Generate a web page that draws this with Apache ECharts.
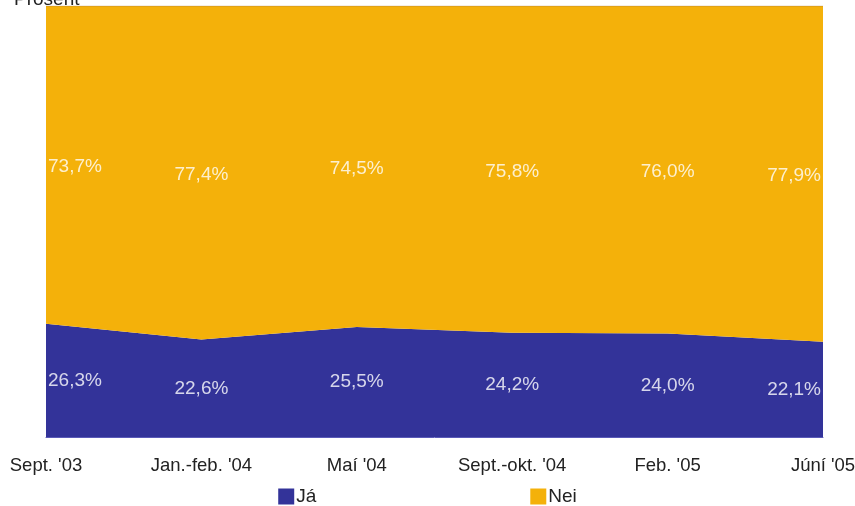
<!DOCTYPE html>
<html>
<head>
<meta charset="utf-8">
<script src="https://cdn.jsdelivr.net/npm/echarts@6/dist/echarts.min.js"></script>
<style>
  html, body { margin: 0; padding: 0; background: #fff; }
  #chart { width: 855px; height: 506px; }
</style>
</head>
<body>
<div id="chart"></div>
<script>
// tímabil
const categories = ["Sept. '03", "Jan.-feb. '04", "Maí '04", "Sept.-okt. '04", "Feb. '05", "Júní '05"];
const ja = [26.3, 22.6, 25.5, 24.2, 24.0, 22.1];
const nei = [73.7, 77.4, 74.5, 75.8, 76.0, 77.9];

const FONT = '"Liberation Sans Narrow", "Arial Narrow", "Liberation Sans", Arial, sans-serif';
const BLUE = '#333399';
const ORANGE = '#F4B10A';

const fmt = (v) => v.toFixed(1).replace('.', ',') + '%';

// label á miðju hvers svæðis
const last = categories.length - 1;
const alignFor = (i) => i === 0 ? 'left' : (i === last ? 'right' : 'center');
const shiftFor = (i) => i === 0 ? 2 : (i === last ? -2 : 0);
const midJa = ja.map((v, i) => ({
  value: [i, v / 2],
  label: { formatter: fmt(v), align: alignFor(i), offset: [shiftFor(i), 0] }
}));
const midNei = nei.map((v, i) => ({
  value: [i, ja[i] + v / 2],
  label: { formatter: fmt(v), align: alignFor(i), offset: [shiftFor(i), 2] }
}));

const chart = echarts.init(document.getElementById('chart'));
chart.setOption({
  animation: false,
  backgroundColor: '#fff',
  textStyle: { fontFamily: FONT },
  title: {
    text: 'Prósent',
    left: 9,
    top: -15,
    textStyle: { fontFamily: FONT, fontSize: 19, fontWeight: 'normal', color: '#222' }
  },
  legend: {
    top: 482,
    left: 'center',
    itemGap: 214,
    itemWidth: 16,
    itemHeight: 16,
    icon: 'rect',
    data: ['Já', 'Nei'],
    textStyle: { fontFamily: FONT, fontSize: 19, color: '#222', padding: [0, 0, 0, -3] }
  },
  grid: { left: 46, right: 32, top: 6, bottom: 69, outerBoundsMode: 'none' },
  xAxis: {
    type: 'category',
    data: categories,
    boundaryGap: false,
    axisLine: { show: true, lineStyle: { color: '#5a5ab8', width: 1 } },
    axisTick: { show: false },
    axisLabel: { margin: 19, fontFamily: FONT, fontSize: 18.5, color: '#222', interval: 0 },
    splitLine: { show: false }
  },
  yAxis: {
    type: 'value',
    min: 0,
    max: 100,
    show: false
  },
  series: [
    {
      name: 'Já',
      type: 'line',
      stack: 'total',
      data: ja,
      symbol: 'none',
      lineStyle: { width: 0 },
      itemStyle: { color: BLUE },
      areaStyle: { color: BLUE, opacity: 1 }
    },
    {
      name: 'Nei',
      type: 'line',
      stack: 'total',
      data: nei,
      symbol: 'none',
      lineStyle: { width: 1, color: 'rgba(170,120,60,0.5)' },
      itemStyle: { color: ORANGE },
      areaStyle: { color: ORANGE, opacity: 1 }
    },
    {
      type: 'scatter',
      data: midJa,
      symbolSize: 2,
      itemStyle: { color: 'rgba(0,0,0,0)' },
      silent: true,
      z: 5,
      label: { show: true, position: 'inside', color: '#fff', fontFamily: FONT, fontSize: 19 }
    },
    {
      type: 'scatter',
      data: midNei,
      symbolSize: 2,
      itemStyle: { color: 'rgba(0,0,0,0)' },
      silent: true,
      z: 5,
      label: { show: true, position: 'inside', color: '#fff', fontFamily: FONT, fontSize: 19 }
    }
  ]
});
</script>
</body>
</html>
